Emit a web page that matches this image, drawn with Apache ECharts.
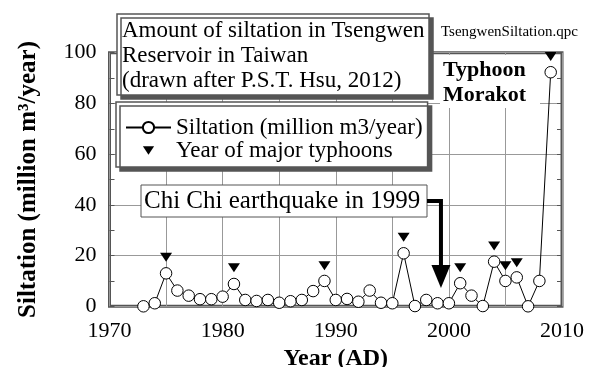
<!DOCTYPE html>
<html>
<head>
<meta charset="utf-8">
<script src="https://cdn.jsdelivr.net/npm/echarts@6/dist/echarts.min.js"></script>
<style>html,body{margin:0;padding:0;background:#fff}#c{width:600px;height:367px}</style>
</head>
<body>
<div id="c"></div>
<script>
// ---- data ----
const years = [1973,1974,1975,1976,1977,1978,1979,1980,1981,1982,1983,1984,1985,1986,1987,1988,1989,1990,1991,1992,1993,1994,1995,1996,1997,1998,1999,2000,2001,2002,2003,2004,2005,2006,2007,2008,2009];
const siltation = [0,1.2,13.0,6.2,4.2,2.8,2.8,3.8,8.8,2.5,2.1,2.5,1.4,2.0,2.5,6.0,10.0,2.5,2.9,1.8,6.2,1.4,1.2,20.9,0.1,2.5,1.2,1.2,9.1,4.2,0.1,17.6,10.0,11.4,0,10.0,92.3];
const typhoonYears = [1975,1981,1989,1996,2001,2004,2005,2006,2009];
const typhoonMarks = [19.3,15.2,16.0,27.2,15.2,23.8,16.0,17.2,98.5];
const xLabelYears = [1970,1980,1990,2000,2010];
const yTicks = [0,20,40,60,80,100];
const titleLines = ['Amount of siltation in Tsengwen','Reservoir in Taiwan','(drawn after P.S.T. Hsu, 2012)'];
const seriesNames = ['Siltation (million m3/year)','Year of major typhoons'];
const quakeLabel = 'Chi Chi earthquake in 1999';
const quakePoint = [1999.3, 7.2];
const morakotLines = ['Typhoon','Morakot'];
const fileTag = 'TsengwenSiltation.qpc';

const FONT = 'Liberation Serif';
const chart = echarts.init(document.getElementById('c'), null, {renderer:'canvas'});
const tri = 'path://M0,0 L12,0 L6,9 Z';
const triLegend = 'path://M-4,-3 M0,0 L12,0 L6,9 Z M16,12';
const labelStyle = {fontFamily: FONT, fontSize: 22, fontWeight: 'normal', color: '#000'};

const option = {
  animation: false,
  backgroundColor: '#fff',
  textStyle: {fontFamily: FONT, color: '#000'},
  title: {
    text: titleLines.join('\n'),
    left: 117, top: 14,
    padding: [4, 5, 2, 5],
    backgroundColor: '#fff',
    borderColor: '#555', borderWidth: 1.5,
    shadowColor: '#555', shadowOffsetX: 4, shadowOffsetY: 4, shadowBlur: 0,
    textStyle: {fontFamily: FONT, fontSize: 23, fontWeight: 'normal', color: '#000', lineHeight: 25}
  },
  legend: {
    orient: 'vertical', left: 116, top: 102,
    padding: [14, 5, 5, 9],
    itemWidth: 45, itemHeight: 14, itemGap: 0,
    backgroundColor: '#fff',
    borderColor: '#555', borderWidth: 1.5,
    shadowColor: '#555', shadowOffsetX: 4, shadowOffsetY: 4, shadowBlur: 0,
    textStyle: {fontFamily: FONT, fontSize: 23, color: '#000', lineHeight: 22},
    data: [{name: seriesNames[0]}, {name: seriesNames[1], icon: triLegend}]
  },
  grid: {
    left: 109.5, right: 38, top: 52.7, bottom: 60.7,
    containLabel: false, outerBoundsMode: 'none',
    show: true, borderColor: '#555', borderWidth: 3, backgroundColor: 'transparent'
  },
  xAxis: {
    type: 'value', min: 1970, max: 2010, interval: 5,
    name: 'Year (AD)', nameLocation: 'middle', nameGap: 37,
    nameTextStyle: {fontFamily: FONT, fontSize: 24, fontWeight: 'bold', color: '#000'},
    axisLine: {show: false}, axisTick: {show: false},
    splitLine: {show: true, lineStyle: {color: '#999', width: 1}},
    axisLabel: Object.assign({margin: 14, hideOverlap: false,
      formatter: v => xLabelYears.includes(v) ? String(v) : ''}, labelStyle)
  },
  yAxis: [{
    type: 'value', min: yTicks[0], max: yTicks[yTicks.length-1], interval: 20,
    name: 'Siltation (million m³/year)', nameLocation: 'middle', nameGap: 68,
    nameTextStyle: {fontFamily: FONT, fontSize: 25, fontWeight: 'bold', color: '#000'},
    axisLine: {show: false},
    axisTick: {show: true, inside: true, length: 5, lineStyle: {color: '#555', width: 1}},
    minorTick: {show: true, splitNumber: 2, length: 5, lineStyle: {color: '#555', width: 1}},
    splitLine: {show: true, lineStyle: {color: '#999', width: 1}},
    axisLabel: Object.assign({margin: 13}, labelStyle)
  }, {
    type: 'value', position: 'right', min: 0, max: 100, interval: 20,
    axisLine: {show: false},
    axisTick: {show: true, inside: true, length: 5, lineStyle: {color: '#555', width: 1}},
    minorTick: {show: true, splitNumber: 2, length: 5, lineStyle: {color: '#555', width: 1}},
    splitLine: {show: false}, axisLabel: {show: false}
  }],
  series: [{
    name: seriesNames[0], type: 'line',
    data: years.map((y, i) => [y, siltation[i]]),
    symbol: 'circle', symbolSize: 11.5,
    lineStyle: {color: '#000', width: 1},
    itemStyle: {color: '#fff', borderColor: '#000', borderWidth: 1},
    z: 3
  }, {
    name: seriesNames[1], type: 'scatter',
    data: typhoonYears.map((y, i) => [y, typhoonMarks[i]]),
    symbol: tri, symbolSize: [12, 9],
    itemStyle: {color: '#000', opacity: 1},
    z: 3
  }]
};
chart.setOption(option);

const tip = chart.convertToPixel({gridIndex: 0}, quakePoint);
const boxL = 141, boxT = 185, boxW = 286, boxH = 32;
const boxR = boxL + boxW, midY = boxT + boxH / 2;
chart.setOption({
  graphic: [
    {type: 'text', left: 441, top: 25, z: 10,
     style: {text: fileTag, fontFamily: FONT, fontSize: 15, fill: '#000'}},
    {type: 'rect', shape: {x: 440, y: 55, width: 100, height: 53}, z: 1, silent: true,
     style: {fill: '#fff'}},
    {type: 'text', x: 443, y: 58, z: 10,
     style: {text: morakotLines.join('\n'), fontFamily: FONT, fontSize: 22, fontWeight: 'bold', lineHeight: 25, fill: '#000'}},
    {type: 'rect', shape: {x: boxL, y: boxT, width: boxW, height: boxH}, z: 10,
     style: {fill: '#fff', stroke: '#555', lineWidth: 1}},
    {type: 'text', x: boxL + 3, y: midY, z: 11,
     style: {text: quakeLabel, fontFamily: FONT, fontSize: 25, fill: '#000', verticalAlign: 'middle'}},
    {type: 'polyline', z: 10,
     shape: {points: [[boxR, midY], [tip[0], midY], [tip[0], tip[1] - 20]]},
     style: {stroke: '#000', lineWidth: 4, fill: null}},
    {type: 'polygon', z: 10,
     shape: {points: [[tip[0] - 9.5, tip[1] - 23], [tip[0] + 9.5, tip[1] - 23], [tip[0], tip[1]]]},
     style: {fill: '#000'}}
  ]
});
</script>
</body>
</html>
